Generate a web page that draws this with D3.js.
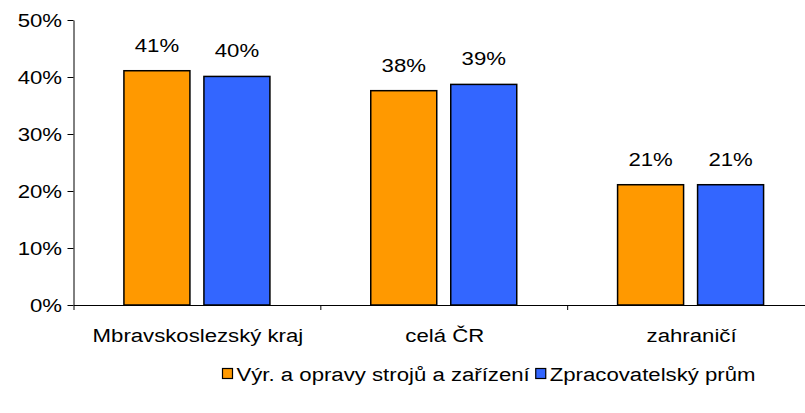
<!DOCTYPE html>
<html>
<head>
<meta charset="utf-8">
<script src="https://cdn.jsdelivr.net/npm/d3@7"></script>
<style>
  body { margin: 0; background: #fff; }
  text { font-family: "Liberation Sans", Arial, sans-serif; fill: #000; }
</style>
</head>
<body>
<div id="chart"></div>
<script>
// chart data
var categories = ["Mbravskoslezský kraj", "celá ČR", "zahraničí"];
var seriesNames = ["Výr. a opravy strojů a zařízení", "Zpracovatelský prům"];
var machinery = [41.1, 37.6, 21.1];
var manufacturing = [40.1, 38.7, 21.1];
var valueLabels = [["41%", "38%", "21%"], ["40%", "39%", "21%"]];
var yTicks = [0, 10, 20, 30, 40, 50];
var colors = ["#FF9900", "#3366FF"];

var svgWidth = 805, svgHeight = 413;
var fontSize = 18.8, stretch = 1.18;

var svg = d3.select("#chart").append("svg")
  .attr("width", svgWidth)
  .attr("height", svgHeight);

// scales
var axisLeftX = 73.5, axisBottomY = 305;
var yScale = d3.scaleLinear().domain([0, 50]).range([axisBottomY, 20]);
var x0 = d3.scaleBand().domain(categories).range([axisLeftX, 814]);
var xEdges = d3.scaleLinear().domain([0, 3]).range([axisLeftX, 814]);
var groupW = 146;
var x1 = d3.scaleBand().domain([0, 1]).range([0, groupW]).paddingInner(0.175);

// stretched text helper (reference glyphs are wider than tall)
function label(g, x, y, str, anchor, size) {
  return g.append("text")
    .attr("transform", "translate(" + x + "," + y + ") scale(" + stretch + ",1)")
    .attr("text-anchor", anchor)
    .style("font-size", (size || fontSize) + "px")
    .text(str);
}

// y axis
var yAxis = svg.append("g")
  .attr("transform", "translate(" + axisLeftX + ",0)")
  .call(d3.axisLeft(yScale).tickValues(yTicks).tickSize(6).tickSizeOuter(0).tickFormat(""));
yAxis.select(".domain").attr("stroke", "#000");
yTicks.forEach(function(t) {
  label(svg, axisLeftX - 11.5, yScale(t) + 6.5, t + "%", "end");
});

// x axis with ticks at category edges
var xAxis = svg.append("g")
  .attr("transform", "translate(0," + axisBottomY + ")")
  .call(d3.axisBottom(xEdges).tickValues([0, 1, 2, 3]).tickSize(5).tickSizeOuter(0).tickFormat(""));
xAxis.select(".domain").attr("stroke", "#000");

categories.forEach(function(c) {
  label(svg, x0(c) + x0.bandwidth() / 2 + 1, 341.5, c, "middle");
});

// bars
var seriesVals = [machinery, manufacturing];
var groups = svg.selectAll(null)
  .data(categories)
  .enter()
  .append("g")
  .attr("transform", function(d) { return "translate(" + (x0(d) + (x0.bandwidth() - groupW) / 2) + ",0)"; });

groups.each(function(c, ci) {
  var g = d3.select(this);
  [0, 1].forEach(function(si) {
    var v = seriesVals[si][ci];
    g.append("rect")
      .attr("x", x1(si))
      .attr("y", yScale(v))
      .attr("width", x1.bandwidth())
      .attr("height", axisBottomY - yScale(v))
      .attr("fill", colors[si])
      .attr("stroke", "#000")
      .attr("stroke-width", 1.5);
    label(g, x1(si) + x1.bandwidth() / 2, yScale(v) - 19, valueLabels[si][ci], "middle");
  });
});

// legend: items laid out one after another
var legend = svg.append("g");
var lx = 222.5;
seriesNames.forEach(function(name, i) {
  legend.append("rect")
    .attr("x", lx)
    .attr("y", 368.5)
    .attr("width", 10)
    .attr("height", 10)
    .attr("fill", colors[i])
    .attr("stroke", "#000")
    .attr("stroke-width", 1.2);
  var t = label(legend, lx + 14, 380.5, name, "start", 18.8);
  lx += 14 + t.node().getComputedTextLength() * stretch + 6;
});
</script>
</body>
</html>
